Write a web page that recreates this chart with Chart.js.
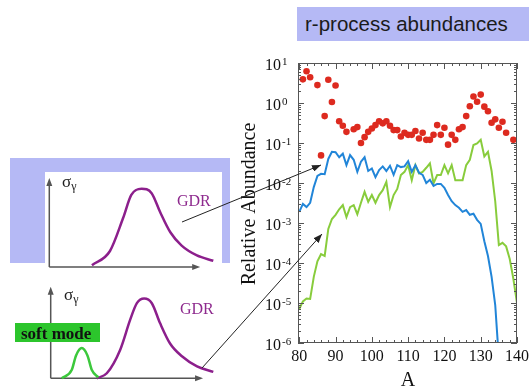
<!DOCTYPE html>
<html>
<head>
<meta charset="utf-8">
<title>r-process abundances</title>
<script src="https://cdn.jsdelivr.net/npm/chart.js@4.4.1/dist/chart.umd.min.js"></script>
<style>
  html, body { margin: 0; padding: 0; background: #fff; }
  #page { position: relative; width: 529px; height: 389px; overflow: hidden; }
  #page > * { position: absolute; }
  .serif { font-family: "Liberation Serif", "DejaVu Serif", serif; line-height: 1; white-space: nowrap; }
</style>
</head>
<body>
<div id="page">
  <div style="left:297px;top:7px;width:232px;height:34px;background:#b5b9f5"></div>
  <div style="left:305px;top:14.3px;font:20.5px/1 'Liberation Sans',Arial,sans-serif;color:#1b1b1b;white-space:nowrap">r-process abundances</div>

  <div style="left:10px;top:158px;width:220px;height:105px;background:#b5b9f5"></div>
  <canvas id="gdrTop" width="177" height="105" style="left:45px;top:172px;background:#fff"></canvas>
  <canvas id="gdrBottom" width="177" height="105" style="left:45px;top:280px"></canvas>
  <canvas id="main" width="529" height="389" style="left:0;top:0"></canvas>

  <div class="serif" style="left:62px;top:173px;font-size:17px;color:#222">σ<span style="font-size:12px;position:relative;top:3px">γ</span></div>
  <div class="serif" style="left:177px;top:192.5px;font-size:16px;color:#8e2a8e">GDR</div>
  <div class="serif" style="left:64px;top:286px;font-size:17px;color:#222">σ<span style="font-size:12px;position:relative;top:3px">γ</span></div>
  <div class="serif" style="left:180px;top:300.5px;font-size:16px;color:#8e2a8e">GDR</div>
  <div style="left:15px;top:323px;width:85px;height:19px;background:#2cc52c"></div>
  <div class="serif" style="left:21px;top:324.5px;font-size:17px;font-weight:bold;color:#111">soft mode</div>

  <svg width="529" height="389" style="left:0;top:0">
    <defs>
      <marker id="ah" markerWidth="9" markerHeight="7" refX="9" refY="3.5" orient="auto" markerUnits="userSpaceOnUse">
        <path d="M0,0 L9,3.5 L0,7 z" fill="#222"/>
      </marker>
    </defs>
    <line x1="182" y1="222" x2="321" y2="165" stroke="#222" stroke-width="1" marker-end="url(#ah)"/>
    <line x1="202" y1="368" x2="322" y2="234" stroke="#222" stroke-width="1" marker-end="url(#ah)"/>
  </svg>
</div>

<script>
// mass number A for the calculated curves
const massA = [80,81,82,83,84,85,86,87,88,89,90,91,92,93,94,95,96,97,98,99,
  100,101,102,103,104,105,106,107,108,109,110,111,112,113,114,115,116,117,118,119,
  120,121,122,123,124,125,126,127,128,129,130,131,132,133,134,135,136,137,138,139,140];

// solar r-process abundances (red dots)
const solarA = [81,82,83,85,86,87,88,89,90,91,92,93,95,96,97,98,99,100,101,102,103,104,105,106,107,108,109,
  110,111,112,113,114,115,116,117,118,119,120,121,122,123,124,125,126,127,128,129,130,131,132,133,134,135,136,137,139];
const solarVal = [3.9,6.2,4.4,2.8,0.049,0.47,3.8,1.06,2.75,0.35,0.27,0.19,0.22,0.25,0.10,0.14,0.19,0.23,0.28,0.35,0.31,0.35,0.27,0.21,0.21,0.146,0.18,
  0.16,0.16,0.20,0.13,0.18,0.12,0.12,0.16,0.28,0.16,0.24,0.091,0.16,0.12,0.22,0.25,0.47,0.83,1.46,1.07,1.62,0.81,0.62,0.32,0.39,0.24,0.34,0.18,0.12];

// blue curve, A = 80 .. 135
const blueVal = [0.0019,0.0030,0.0025,0.0032,0.0079,0.015,0.017,0.0166,0.040,0.060,
  0.059,0.044,0.054,0.028,0.050,0.038,0.019,0.034,0.044,0.020,
  0.023,0.014,0.021,0.026,0.020,0.027,0.016,0.028,0.025,0.026,
  0.035,0.019,0.028,0.018,0.016,0.010,0.012,0.0085,0.0095,0.0095,
  0.0076,0.0050,0.0035,0.0028,0.0024,0.0019,0.0021,0.0016,0.0017,0.0012,
  0.00095,0.00035,0.00015,0.000045,0.0000089,0.0000004];

// green curve, A = 80 .. 140
const greenVal = [7.1e-6,1.1e-5,1.3e-5,1.26e-5,4.5e-5,1.1e-4,1.66e-4,1.5e-4,7.1e-4,1.26e-3,
  1.6e-3,2.2e-3,2.8e-3,1.4e-3,2.5e-3,2.8e-3,1.66e-3,3.2e-3,6.0e-3,3.4e-3,
  5.0e-3,3.2e-3,5.0e-3,6.6e-3,0.0107,2.5e-3,5.0e-3,7.1e-3,0.0158,0.019,
  0.028,0.0117,0.028,0.0174,0.019,0.024,0.031,0.0098,0.0158,0.0158,
  0.028,0.0174,0.028,0.0117,0.0117,0.0117,0.028,0.038,0.089,0.098,
  0.12,0.046,0.060,0.020,3.5e-3,2.8e-4,3.2e-4,2.6e-4,1.26e-4,4.0e-5,
  1.0e-5];

const xTicks = [80,90,100,110,120,130,140];
const yExponents = [1,0,-1,-2,-3,-4,-5,-6];

// schematic cross sections (arbitrary units, x 0..100, y 0..1)
const gdrTopX = [26,37,45,50,56.3,62.4,67.5,73.8,80.7,90,100];
const gdrTopY = [0.02,0.18,0.55,0.81,0.88,0.83,0.62,0.39,0.24,0.13,0.07];
const gdrBotX = [28.3,34.5,42.7,48.9,53,57.5,62.2,67.3,73.4,80.7,90,100];
const gdrBotY = [0,0.055,0.31,0.64,0.82,0.87,0.82,0.60,0.38,0.24,0.13,0.07];
const softX = [6.8,12.9,15.6,19.1,22.6,25.3,29.3];
const softY = [0,0.09,0.25,0.33,0.25,0.09,0.01];

const pts = (xs, ys) => ys.map((v, i) => ({x: xs[i], y: v}));

// frame, inward ticks and labels for the abundance plot
const framePlugin = {
  id: 'frame',
  afterDraw(chart) {
    const {ctx, chartArea: a, scales: {x, y}} = chart;
    ctx.save();
    ctx.strokeStyle = '#555';
    ctx.lineWidth = 1;
    ctx.strokeRect(a.left + 0.5, a.top + 0.5, a.right - a.left - 1, a.bottom - a.top - 1);
    ctx.beginPath();
    for (let v = 80; v <= 140; v += 2) {
      const px = Math.round(x.getPixelForValue(v)) + 0.5;
      const len = v % 10 === 0 ? 6 : 3;
      ctx.moveTo(px, a.bottom); ctx.lineTo(px, a.bottom - len);
      ctx.moveTo(px, a.top); ctx.lineTo(px, a.top + len);
    }
    yExponents.forEach(e => {
      for (let m = 1; m <= 9; m++) {
        if (e === 1 && m > 1) break;
        const py = Math.round(y.getPixelForValue(m * Math.pow(10, e))) + 0.5;
        const len = m === 1 ? 6 : 3;
        ctx.moveTo(a.left, py); ctx.lineTo(a.left + len, py);
        ctx.moveTo(a.right, py); ctx.lineTo(a.right - len, py);
      }
    });
    ctx.stroke();

    ctx.fillStyle = '#111';
    ctx.font = '16px "Liberation Serif", serif';
    ctx.textAlign = 'center';
    xTicks.forEach(v => ctx.fillText(String(v), x.getPixelForValue(v), a.bottom + 17.5));
    ctx.textAlign = 'left';
    yExponents.forEach(e => {
      const py = y.getPixelForValue(Math.pow(10, e));
      ctx.font = '16px "Liberation Serif", serif';
      ctx.fillText('10', 265, py + 6.5);
      ctx.font = '11px "Liberation Serif", serif';
      ctx.fillText(String(e), 282, py + 2);
    });

    ctx.font = '20px "Liberation Serif", serif';
    ctx.textAlign = 'center';
    ctx.fillText('A', 408, 386);
    ctx.translate(255, 204);
    ctx.rotate(-Math.PI / 2);
    ctx.fillText('Relative Abundance', 0, 0);
    ctx.restore();
  }
};

new Chart(document.getElementById('main'), {
  type: 'scatter',
  data: {
    datasets: [
      {data: pts(solarA, solarVal), pointRadius: 3.3, backgroundColor: '#dd2a1f', borderWidth: 0},
      {data: pts(massA, blueVal), showLine: true, borderColor: '#2185d8', borderWidth: 2, pointRadius: 0},
      {data: pts(massA, greenVal), showLine: true, borderColor: '#88cc3c', borderWidth: 2, pointRadius: 0}
    ]
  },
  options: {
    responsive: false,
    animation: false,
    events: [],
    layout: {padding: {left: 298, top: 63, right: 12, bottom: 46}},
    plugins: {legend: {display: false}, tooltip: {enabled: false}},
    scales: {
      x: {type: 'linear', min: 79.65, max: 140, ticks: {display: false}, grid: {display: false}, border: {display: false},
          afterFit(s) { s.height = 0; }},
      y: {type: 'logarithmic', min: 1e-6, max: 10, ticks: {display: false}, grid: {display: false}, border: {display: false},
          afterFit(s) { s.width = 0; }}
    }
  },
  plugins: [framePlugin]
});

// small sketch plots with arrow axes
function arrowAxes(xEnd) {
  return {
    id: 'arrowAxes',
    beforeDatasetsDraw(chart) {
      const {ctx, chartArea: a, scales: {x}} = chart;
      const xe = x.getPixelForValue(xEnd);
      ctx.save();
      ctx.strokeStyle = '#555';
      ctx.fillStyle = '#555';
      ctx.lineWidth = 1.5;
      ctx.beginPath();
      ctx.moveTo(a.left, a.bottom); ctx.lineTo(a.left, a.top + 4);
      ctx.moveTo(a.left, a.bottom); ctx.lineTo(xe - 4, a.bottom);
      ctx.stroke();
      ctx.beginPath();
      ctx.moveTo(a.left, a.top); ctx.lineTo(a.left - 3, a.top + 8); ctx.lineTo(a.left + 3, a.top + 8); ctx.closePath();
      ctx.moveTo(xe, a.bottom); ctx.lineTo(xe - 8, a.bottom - 3); ctx.lineTo(xe - 8, a.bottom + 3); ctx.closePath();
      ctx.fill();
      ctx.restore();
    }
  };
}

function sketch(id, pad, xEnd, curves) {
  new Chart(document.getElementById(id), {
    type: 'scatter',
    data: {
      datasets: curves.map(c => ({
        data: pts(c.x, c.y), showLine: true, borderColor: c.color, borderWidth: 2.5,
        pointRadius: 0, cubicInterpolationMode: 'monotone', clip: false
      }))
    },
    options: {
      responsive: false,
      animation: false,
      events: [],
      layout: {padding: pad},
      plugins: {legend: {display: false}, tooltip: {enabled: false}},
      scales: {x: {display: false, min: 0, max: 100}, y: {display: false, min: 0, max: 1}}
    },
    plugins: [arrowAxes(xEnd)]
  });
}

sketch('gdrTop', {left: 4.3, top: 6, right: 8.7, bottom: 10}, 92,
  [{x: gdrTopX, y: gdrTopY, color: '#8c1f8c'}]);
sketch('gdrBottom', {left: 5.7, top: 6.7, right: 8.7, bottom: 6.7}, 93.7,
  [{x: softX, y: softY, color: '#3cc83c'}, {x: gdrBotX, y: gdrBotY, color: '#8c1f8c'}]);
</script>
</body>
</html>
